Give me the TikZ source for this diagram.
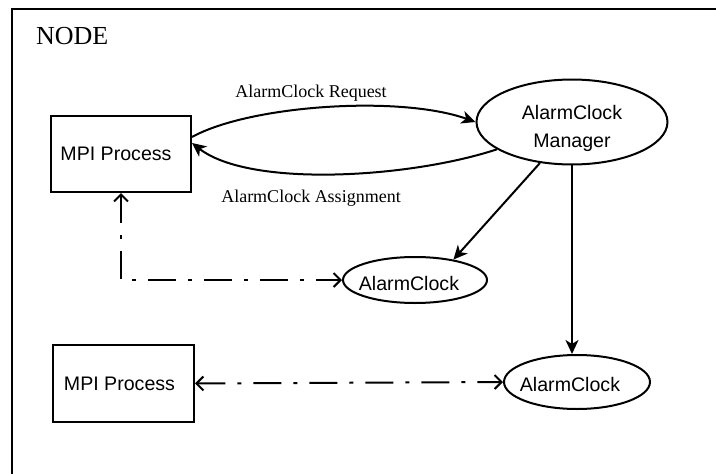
\documentclass[tikz,border=0pt]{standalone}
\usepackage{fontspec}
\setmainfont{Liberation Serif}
\newfontfamily\helv{Liberation Sans}
\usetikzlibrary{arrows.meta,shapes.geometric}
\begin{document}
\begin{tikzpicture}[x=1pt,y=-1pt, line width=2pt,
 proc/.style={draw, rectangle, minimum width=140pt, minimum height=76pt, inner sep=0pt, font=\helv\fontsize{19.6}{28}\selectfont},
 oval/.style={draw, ellipse, inner sep=0pt, font=\helv\fontsize{19.6}{28}\selectfont, align=center},
 flow/.style={-{Stealth[length=14pt,width=13pt,inset=4pt]}},
 link/.style={{Straight Barb[length=7pt,width=14pt]}-{Straight Barb[length=7pt,width=14pt]}, dash pattern=on 28pt off 12pt on 4pt off 12pt},
 lbl/.style={font=\fontsize{18}{22}\selectfont, anchor=base, inner sep=0pt}]
\useasboundingbox (0,0) rectangle (716,474);
\clip (0,0) rectangle (716,474);
\draw (12,490) |- (730,9);
\node[anchor=base west, font=\fontsize{26}{30}\selectfont, inner sep=0pt] (title) at (35,44) {NODE};
\node[proc] (p1) at (121,154) {\hspace*{-10pt}MPI Process};
\node[proc, minimum width=141pt, minimum height=77pt] (p2) at (123.5,383.5) {\hspace*{-8pt}MPI Process};
\node[oval, minimum width=191pt, minimum height=81pt] (mgr) at (572,122) {\rule{0pt}{28pt}AlarmClock\\Manager};
\node[oval, minimum width=144pt, minimum height=46pt, text height=20pt, text depth=0pt] (ac1) at (415,280) {\hspace*{-12pt}AlarmClock};
\node[oval, minimum width=146pt, minimum height=54pt, text height=18pt, text depth=0pt] (ac2) at (577,382) {\hspace*{-14pt}AlarmClock};
\node[lbl] (req) at (311,97) {AlarmClock Request};
\node[lbl] (asg) at (311,202) {AlarmClock Assignment};
\draw[flow] ([yshift=-22pt]p1.north east) .. controls (250,105) and (400,95) .. (mgr.west);
\draw[flow] (mgr.200) .. controls (410,178) and (250,188) .. ([yshift=11pt]p1.east);
\draw[flow] (mgr.232) -- (ac1.28);
\draw[flow] (mgr.south) -- (mgr.south |- ac2.north);
\draw[link] (p1.south) |- (ac1.west);
\draw[link] (p2.east) -- (ac2.west);
\end{tikzpicture}
\end{document}
